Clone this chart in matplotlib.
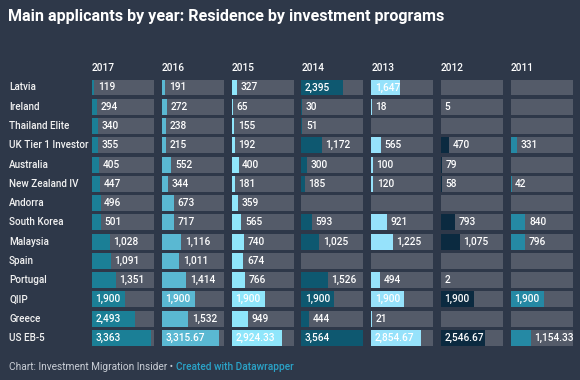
import numpy as np
import matplotlib
matplotlib.use("Agg")
import matplotlib.pyplot as plt
import matplotlib.transforms as mtransforms

years = ["2017", "2016", "2015", "2014", "2013", "2012", "2011"]
programs = [
    "Latvia", "Ireland", "Thailand Elite", "UK Tier 1 Investor", "Australia",
    "New Zealand IV", "Andorra", "South Korea", "Malaysia", "Spain",
    "Portugal", "QIIP", "Greece", "US EB-5",
]
# one list per year column, same order as programs (None = no data)
y2017 = [119, 294, 340, 355, 405, 447, 496, 501, 1028, 1091, 1351, 1900, 2493, 3363]
y2016 = [191, 272, 238, 215, 552, 344, 673, 717, 1116, 1011, 1414, 1900, 1532, 3315.67]
y2015 = [327, 65, 155, 192, 400, 181, 359, 565, 740, 674, 766, 1900, 949, 2924.33]
y2014 = [2395, 30, 51, 1172, 300, 185, None, 593, 1025, None, 1526, 1900, 444, 3564]
y2013 = [1647, 18, None, 565, 100, 120, None, 921, 1225, None, 494, 1900, 21, 2854.67]
y2012 = [None, 5, None, 470, 79, 58, None, 793, 1075, None, 2, 1900, None, 2546.67]
y2011 = [None, None, None, 331, None, 42, None, 840, 796, None, None, 1900, None, 1154.33]
columns = [y2017, y2016, y2015, y2014, y2013, y2012, y2011]
colors = ["#1b7f96", "#5ab8d2", "#8fe6fb", "#0e5870", "#96e2fb", "#0b2a40", "#2589a4"]

BG = "#2e3849"
CELL = "#545b69"
INSIDE_SHARE = 0.45


def fmt(v):
    if v == int(v):
        return f"{int(v):,}"
    return f"{v:,.2f}"


def main():
    plt.rcParams["font.family"] = ["Roboto", "DejaVu Sans"]
    fig = plt.figure(figsize=(5.8, 3.8), dpi=100, facecolor=BG)

    vmax = max(v for col in columns for v in col if v is not None)
    n = len(programs)
    rows = np.arange(n)
    h = 0.83

    W, H = 580.0, 380.0
    top_px, bot_px = 79.5, 346.0
    for j, (year, vals, c) in enumerate(zip(years, columns, colors)):
        left_px = 92 + 69.8 * j
        ax = fig.add_axes([left_px / W, 1 - bot_px / H, 62 / W, (bot_px - top_px) / H])
        ax.set_facecolor(BG)
        ax.barh(rows, [vmax] * n, height=h, color=CELL, linewidth=0)
        widths = [0 if v is None else v for v in vals]
        ax.barh(rows, widths, height=h, color=c, linewidth=0)
        for i, v in enumerate(vals):
            if v is None:
                continue
            x0 = 0 if v / vmax > INSIDE_SHARE else v
            ax.annotate(fmt(v), (x0, i), xytext=(2.6, 0), textcoords="offset points",
                        ha="left", va="center", color="white", fontsize=7.3,
                        fontweight="medium")
        ax.set_xlim(0, vmax)
        ax.set_ylim(n - 1 + h / 2, -h / 2)
        ax.axis("off")
        hdr = mtransforms.offset_copy(ax.transAxes, fig=fig, y=4.5, units="points")
        ax.text(0, 1, year, transform=hdr, ha="left", va="bottom",
                color="white", fontsize=7.3, fontweight="medium")
        if j == 0:
            tr = mtransforms.blended_transform_factory(fig.transFigure, ax.transData)
            for i, name in enumerate(programs):
                ax.text(9 / W, i, name, transform=tr, ha="left", va="center",
                        color="#f2f2f2", fontsize=7.1, fontweight="medium")

    fig.text(8 / W, 1 - 17 / H, "Main applicants by year: Residence by investment programs",
             ha="left", va="center", color="white", fontsize=11.6, fontweight="bold")

    t1 = fig.text(9 / W, 1 - 367 / H, "Chart: Investment Migration Insider \u2022 ",
                  ha="left", va="center", color="#c9ced6", fontsize=7.3)
    fig.add_artist(plt.Annotation("Created with Datawrapper", xy=(1, 0.5), xycoords=t1,
                                  ha="left", va="center", color="#2aa3c8", fontsize=7.3,
                                  fontweight="medium"))

    fig.savefig("out.png", dpi=100, facecolor=BG)


if __name__ == "__main__":
    main()
